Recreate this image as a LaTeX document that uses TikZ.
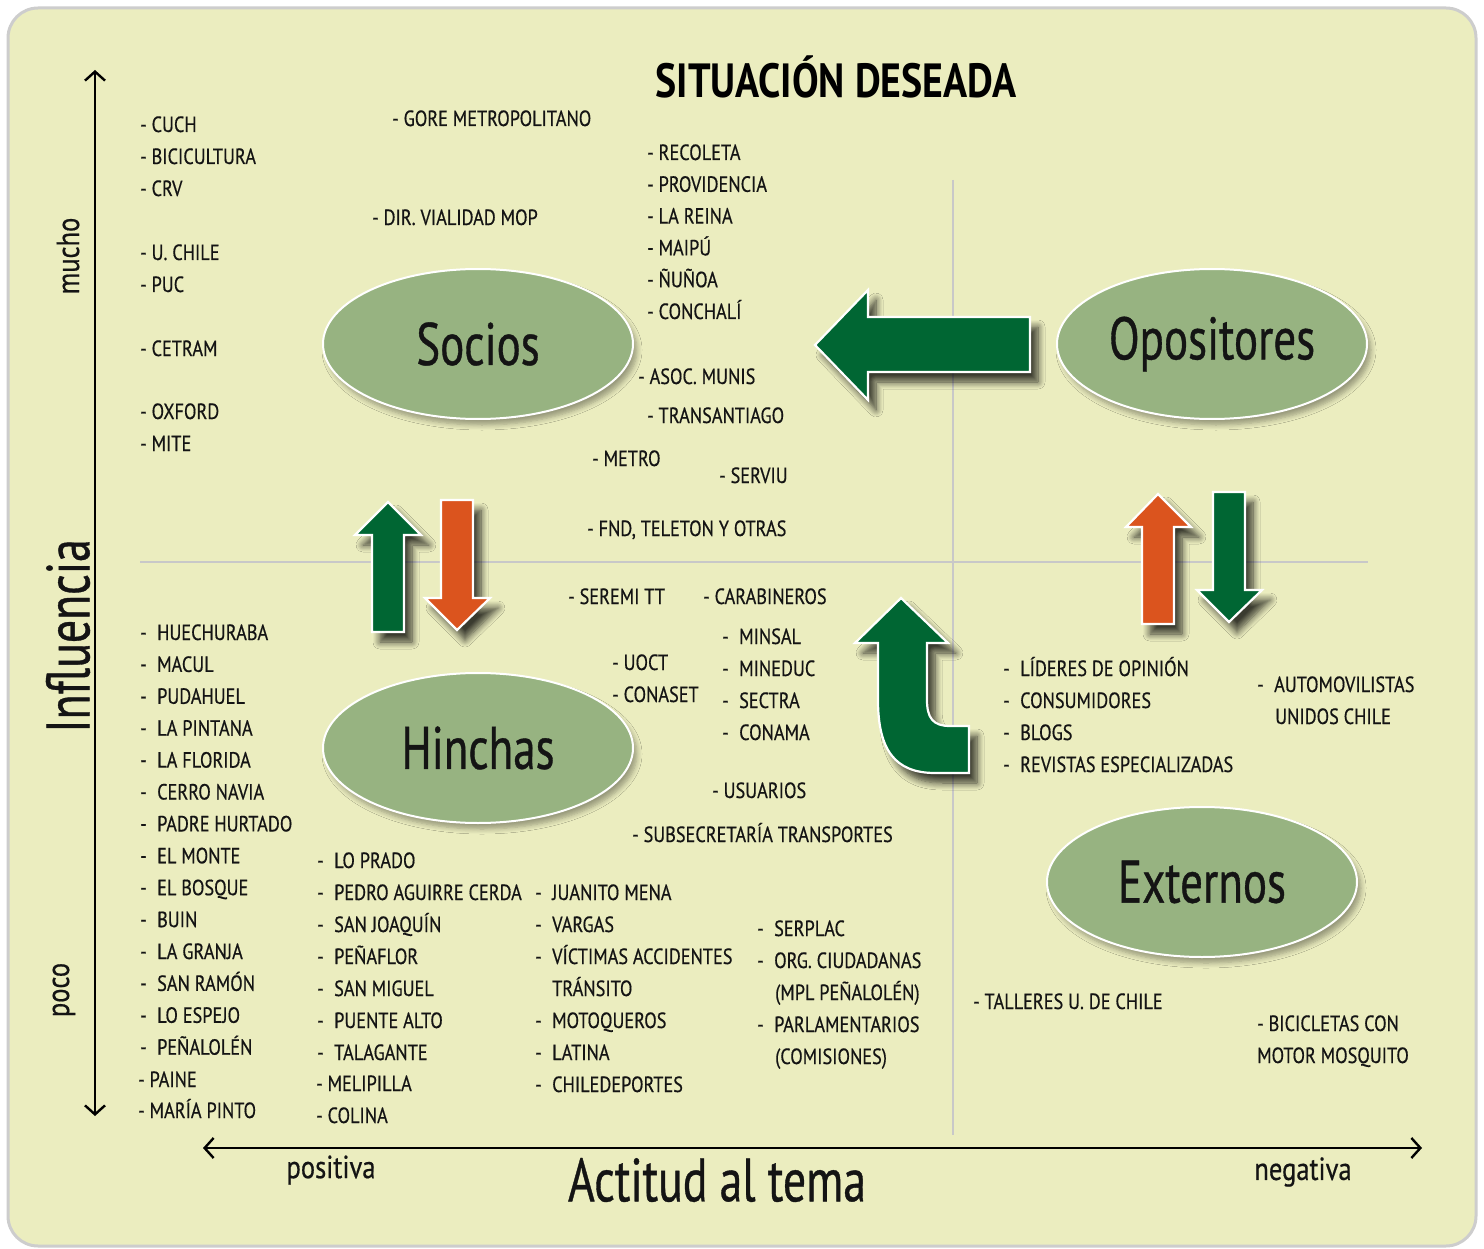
\documentclass[tikz,border=0pt]{standalone}
\usepackage{fontspec}
\setmainfont{PT Sans}[FakeStretch=0.83,FakeBold=0.5]
\newfontfamily\bigfont{PT Sans}[FakeStretch=0.75,FakeBold=0.6]
\newfontfamily\titlefont{PT Sans Bold}[FakeStretch=0.83]
\usetikzlibrary{shapes.geometric,arrows.meta,shadows.blur}
\definecolor{bgc}{RGB}{235,237,191}
\definecolor{bordc}{RGB}{205,205,205}
\definecolor{ellc}{RGB}{151,179,129}
\definecolor{dgreen}{RGB}{0,102,51}
\definecolor{orng}{RGB}{219,84,30}
\definecolor{gridc}{RGB}{200,200,200}
\definecolor{txt}{RGB}{20,20,20}
\newcommand{\itemfont}{\fontsize{22}{26}\selectfont}
\newcommand{\dsh}{\makebox[17pt][l]{-}}
\tikzset{
  item/.style={anchor=base west, inner sep=0pt, font=\itemfont, text=txt},
  ell/.style={ellipse, draw=white, line width=2pt, fill=ellc, minimum width=310pt, minimum height=150pt, font=\bigfont\fontsize{60}{60}\selectfont, text=txt,
     blur shadow={shadow xshift=4pt, shadow yshift=-6pt, shadow blur steps=6, shadow blur radius=5pt, shadow opacity=35}},
  bigarrow/.style={draw=white, line width=2.2pt, line join=miter,
     blur shadow={shadow xshift=8pt, shadow yshift=-10pt, shadow blur steps=8, shadow blur radius=7pt, shadow opacity=75}},
  axis/.style={line width=2.4pt, black, {Straight Barb[length=9pt,width=20pt,line width=2.4pt]}-{Straight Barb[length=9pt,width=20pt,line width=2.4pt]}},
  gridl/.style={gridc, line width=2pt},
  axlabel/.style={font=\fontsize{32}{32}\selectfont, text=txt, inner sep=0pt},
  bigtitle/.style={font=\bigfont\fontsize{61}{61}\selectfont, text=txt, inner sep=0pt}
}
\begin{document}
\begin{tikzpicture}[x=1pt,y=-1pt]
\useasboundingbox (0,0) rectangle (1484,1249);
\fill[bgc, draw=bordc, line width=3pt, rounded corners=30pt] (8,8) rectangle (1476,1246);
% grid lines
\coordinate (gl) at (140,562); \coordinate (gr) at (1368,562);
\coordinate (gt) at (953,180); \coordinate (gb) at (953,1135);
\draw[gridl] (gl) -- (gr);
\draw[gridl] (gt) -- (gb);
% axes
\coordinate (vt) at (95,70); \coordinate (vb) at (95,1116);
\coordinate (hl) at (203,1148); \coordinate (hr) at (1422,1148);
\draw[axis] (vb) -- (vt);
\draw[axis] (hl) -- (hr);
% title and axis labels
\node[font=\titlefont\fontsize{48}{48}\selectfont, text=black, inner sep=0pt] (title) at (836,77) {SITUACIÓN DESEADA};
\node[axlabel, rotate=90] (mucho) at (68,256) {mucho};
\node[axlabel, rotate=90] (poco) at (64,990) {poco};
\node[bigtitle, rotate=90] (influ) at (68,636) {Influencia};
\node[axlabel] (posit) at (331,1170) {positiva};
\node[axlabel] (negat) at (1303,1172) {negativa};
\node[bigtitle] (actit) at (717,1180) {Actitud al tema};
% big arrows
\fill[dgreen, bigarrow] (815,345) -- (868,290) -- (868,317) -- (1030,317) -- (1030,372) -- (868,372) -- (868,400) -- cycle;
\fill[dgreen, bigarrow] (388,502) -- (421,535) -- (404,535) -- (404,632) -- (372,632) -- (372,535) -- (355,535) -- cycle;
\fill[orng, bigarrow] (441,500) -- (473,500) -- (473,598) -- (490,598) -- (457,630) -- (425,598) -- (441,598) -- cycle;
\fill[orng, bigarrow] (1158,494) -- (1191,527) -- (1174,527) -- (1174,624) -- (1142,624) -- (1142,527) -- (1126,527) -- cycle;
\fill[dgreen, bigarrow] (1213,492) -- (1245,492) -- (1245,590) -- (1262,590) -- (1229,622) -- (1197,590) -- (1213,590) -- cycle;
\fill[dgreen, bigarrow] (901,598) -- (948,643) -- (927,643) -- (927,700) .. controls (927,718) and (933,726) .. (950,726) -- (969,726) -- (969,773) -- (935,773) .. controls (895,773) and (878,750) .. (878,700) -- (878,643) -- (855,643) -- cycle;
% ellipses
\node[ell] (socios) at (478,344) {Socios};
\node[ell] (oposit) at (1212,344) {Opositores};
\node[ell] (hinchas) at (478,748) {Hinchas};
\node[ell] (extern) at (1202,882) {Externos};
% upper-left items
\node[item] (cuch) at (140,132) {- CUCH};
\node[item] (bici) at (140,164) {- BICICULTURA};
\node[item] (crv) at (140,196) {- CRV};
\node[item] (uchile) at (140,260) {- U. CHILE};
\node[item] (puc) at (140,292) {- PUC};
\node[item] (cetram) at (140,356) {- CETRAM};
\node[item] (oxford) at (140,419) {- OXFORD};
\node[item] (mite) at (140,451) {- MITE};
\node[item] (gore) at (392,126) {- GORE METROPOLITANO};
\node[item] (vialid) at (372,225) {- DIR. VIALIDAD MOP};
\foreach \t [count=\i from 0] in {RECOLETA, PROVIDENCIA, LA REINA, MAIPÚ, ÑUÑOA, CONCHALÍ}
  \node[item] (mu\i) at (647,160+31.8*\i) {- \t};
\node[item] (asoc) at (638,384) {- ASOC. MUNIS};
\node[item] (transa) at (647,423) {- TRANSANTIAGO};
\node[item] (metro) at (592,466) {- METRO};
\node[item] (serviu) at (719,483) {- SERVIU};
\node[item] (fnd) at (587,536) {- FND, TELETON Y OTRAS};
% middle items
\node[item] (seremi) at (568,604) {- SEREMI TT};
\node[item] (carab) at (703,604) {- CARABINEROS};
\node[item] (uoct) at (612,670) {- UOCT};
\node[item] (conaset) at (612,702) {- CONASET};
\foreach \t [count=\i from 0] in {MINSAL, MINEDUC, SECTRA, CONAMA}
  \node[item] (mi\i) at (722,644+32*\i) {\dsh\t};
\node[item] (usuar) at (712,798) {- USUARIOS};
\node[item] (subsec) at (632,842) {- SUBSECRETARÍA TRANSPORTES};
% lower-left columns
\foreach \t [count=\i from 0] in {HUECHURABA, MACUL, PUDAHUEL, LA PINTANA, LA FLORIDA, CERRO NAVIA, PADRE HURTADO, EL MONTE, EL BOSQUE, BUIN, LA GRANJA, SAN RAMÓN, LO ESPEJO, PEÑALOLÉN}
  \node[item] (c1\i) at (140,640+31.9*\i) {\dsh\t};
\node[item] (paine) at (138,1087) {- PAINE};
\node[item] (mpinto) at (138,1118) {- MARÍA PINTO};
\foreach \t [count=\i from 0] in {LO PRADO, PEDRO AGUIRRE CERDA, SAN JOAQUÍN, PEÑAFLOR, SAN MIGUEL, PUENTE ALTO, TALAGANTE}
  \node[item] (c2\i) at (317,868+32*\i) {\dsh\t};
\node[item] (melip) at (316,1091) {- MELIPILLA};
\node[item] (colina) at (316,1123) {- COLINA};
\node[item] (c30) at (535,900) {\dsh JUANITO MENA};
\node[item] (c31) at (535,932) {\dsh VARGAS};
\node[item] (c32) at (535,964) {\dsh VÍCTIMAS ACCIDENTES};
\node[item] (c33) at (552,996) {TRÁNSITO};
\node[item] (c34) at (535,1028) {\dsh MOTOQUEROS};
\node[item] (c35) at (535,1060) {\dsh LATINA};
\node[item] (c36) at (535,1092) {\dsh CHILEDEPORTES};
\node[item] (c40) at (757,936) {\dsh SERPLAC};
\node[item] (c41) at (757,968) {\dsh ORG. CIUDADANAS};
\node[item] (c42) at (775,1000) {(MPL PEÑALOLÉN)};
\node[item] (c43) at (757,1032) {\dsh PARLAMENTARIOS};
\node[item] (c44) at (775,1064) {(COMISIONES)};
% right items
\foreach \t [count=\i from 0] in {LÍDERES DE OPINIÓN, CONSUMIDORES, BLOGS, REVISTAS ESPECIALIZADAS}
  \node[item] (r\i) at (1003,676+32*\i) {\dsh\t};
\node[item] (auto1) at (1257,692) {\dsh AUTOMOVILISTAS};
\node[item] (auto2) at (1275,724) {UNIDOS CHILE};
\node[item] (talle) at (973,1009) {- TALLERES U. DE CHILE};
\node[item] (bic1) at (1257,1031) {- BICICLETAS CON};
\node[item] (bic2) at (1257,1063) {MOTOR MOSQUITO};
\end{tikzpicture}
\end{document}
